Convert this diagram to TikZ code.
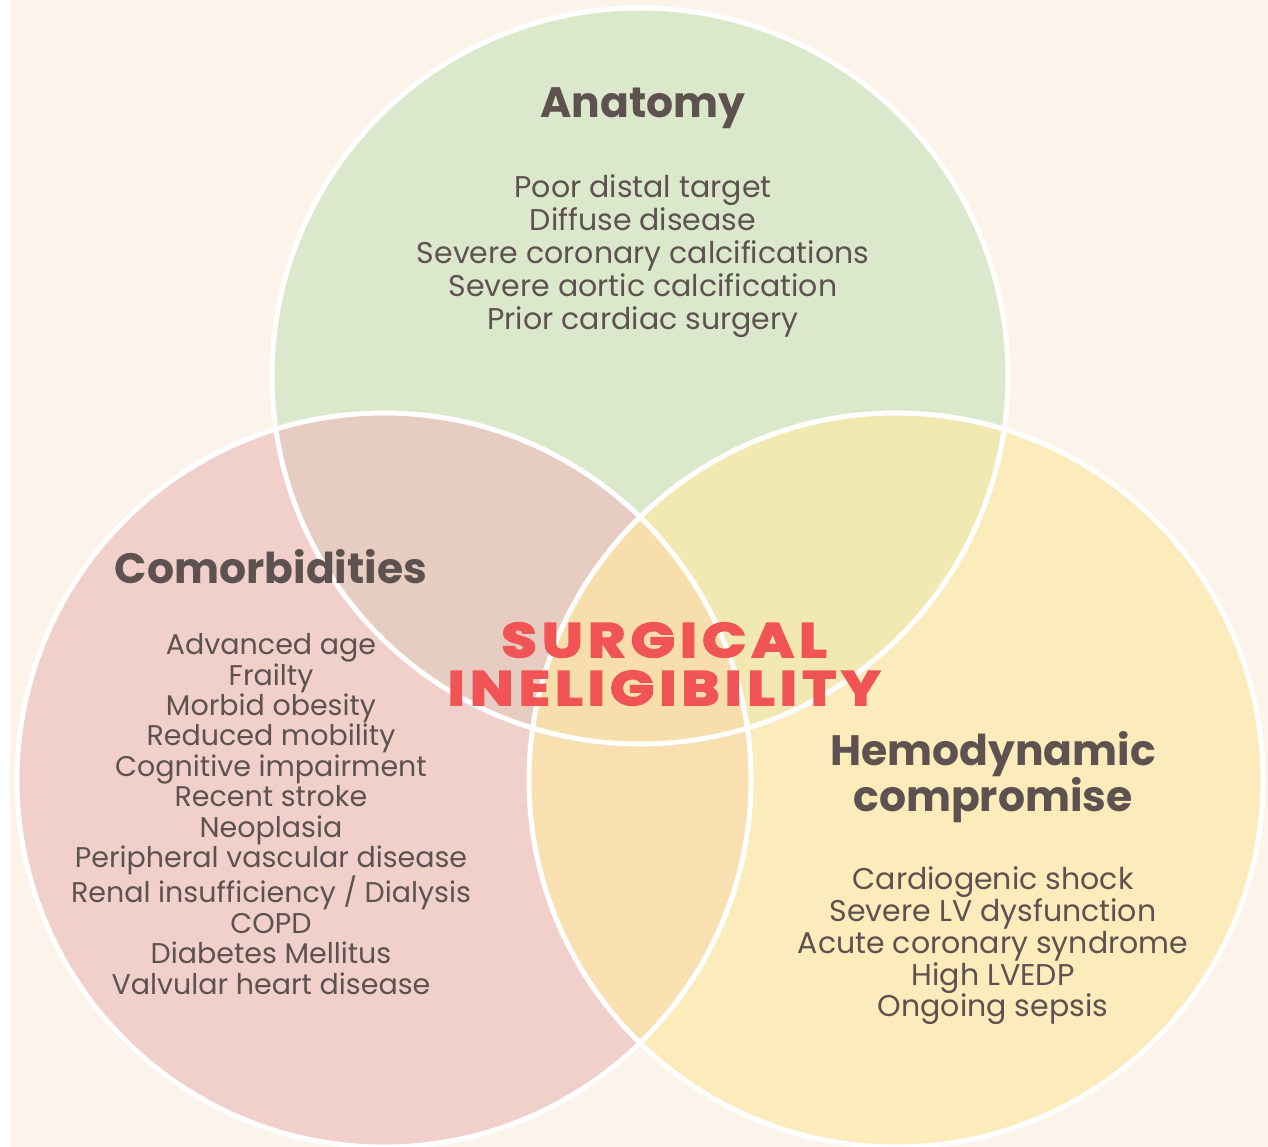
\documentclass[tikz,border=0pt]{standalone}
\usepackage{fontspec}
\setmainfont{Poppins}
\newfontfamily\heavy{Poppins}[LetterSpace=11,FakeStretch=1.2,FakeBold=4]
\definecolor{bgc}{HTML}{FCF3EA}
\definecolor{cgreen}{HTML}{DCE8CC}
\definecolor{cpink}{HTML}{F1D0CC}
\definecolor{cyellow}{HTML}{FCECBC}
\definecolor{cgp}{HTML}{E6CCC1}
\definecolor{cgy}{HTML}{F2E8B1}
\definecolor{cpy}{HTML}{F8E0B0}
\definecolor{cmid}{HTML}{F8DEAB}
\definecolor{txt}{HTML}{5E5250}
\definecolor{redt}{HTML}{F05454}
\begin{document}
\begin{tikzpicture}[x=1pt,y=-1pt,
  ring/.style={draw=white,line width=5pt},
  head/.style={text=txt,font=\fontsize{42.5}{45}\selectfont\bfseries,align=center,inner sep=0pt},
  items/.style={text=txt,align=center,inner sep=0pt},
  big/.style={text=redt,font=\fontsize{48}{48}\selectfont\heavy\bfseries,align=center,inner sep=0pt}]
\useasboundingbox (0,0) rectangle (1268,1147);
\fill[white] (0,0) rectangle (10,1147);
\fill[bgc] (10,0) rectangle (1268,1147);
\coordinate (T) at (640,376);
\coordinate (L) at (384,780);
\coordinate (R) at (896,780);
\fill[cgreen] (T) circle[radius=368pt];
\fill[cpink] (L) circle[radius=367pt];
\fill[cyellow] (R) circle[radius=367pt];
\begin{scope}
  \clip (T) circle[radius=368pt];
  \fill[cgp] (L) circle[radius=367pt];
  \fill[cgy] (R) circle[radius=367pt];
\end{scope}
\begin{scope}
  \clip (L) circle[radius=367pt];
  \fill[cpy] (R) circle[radius=367pt];
  \clip (T) circle[radius=368pt];
  \fill[cmid] (R) circle[radius=367pt];
\end{scope}
\draw[ring] (T) circle[radius=368pt];
\draw[ring] (L) circle[radius=367pt];
\draw[ring] (R) circle[radius=367pt];

\node[head] (anat) at (643,108) {Anatomy};
\node[items,font=\fontsize{30}{33}\selectfont] (anatl) at (643,256) {Poor distal target\\Diffuse disease\\Severe coronary calcifications\\Severe aortic calcification\\Prior cardiac surgery};

\node[head] (como) at (271,567) {Comorbidities};
\node[items,font=\fontsize{28.5}{30.4}\selectfont] (comol) at (271,814) {Advanced age\\Frailty\\Morbid obesity\\Reduced mobility\\Cognitive impairment\\Recent stroke\\Neoplasia\\Peripheral vascular disease\\Renal insufficiency / Dialysis\\COPD\\Diabetes Mellitus\\Valvular heart disease};

\node[head] (hemo) at (993,777) {Hemodynamic\\compromise};
\node[items,font=\fontsize{30}{31.75}\selectfont] (hemol) at (993,946) {Cardiogenic shock\\Severe LV dysfunction\\Acute coronary syndrome\\High LVEDP\\Ongoing sepsis};

\node[big] (surg) at (664,664) {SURGICAL\\INELIGIBILITY};
\end{tikzpicture}
\end{document}
